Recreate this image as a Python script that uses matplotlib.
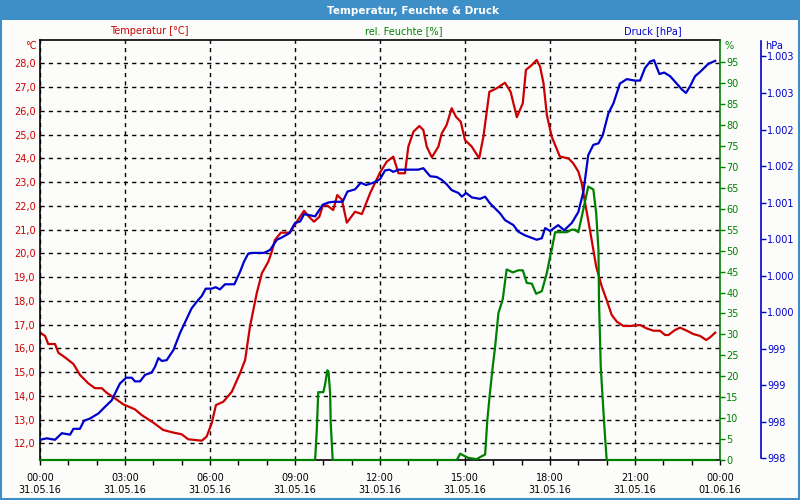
import matplotlib
matplotlib.use("Agg")
import matplotlib.pyplot as plt
from matplotlib.patches import Rectangle
from matplotlib.ticker import MultipleLocator

# --- data (hours since 31.05.16 00:00) ---
temp_h = [0.00, 0.18, 0.29, 0.53, 0.65, 0.88, 1.18, 1.41, 1.70, 1.94, 2.18, 2.35, 2.65,
          2.94, 3.35, 3.59, 4.00, 4.35, 4.71, 5.00, 5.23, 5.71, 5.88, 6.06, 6.21, 6.47,
          6.77, 7.06, 7.24, 7.41, 7.65, 7.83, 8.06, 8.20, 8.29, 8.50, 8.82, 9.06, 9.32,
          9.47, 9.67, 9.86, 9.98, 10.14, 10.35, 10.49, 10.65, 10.83, 11.12, 11.36, 11.65,
          12.00, 12.24, 12.47, 12.65, 12.88, 13.00, 13.18, 13.39, 13.53, 13.65, 13.83,
          14.06, 14.18, 14.35, 14.53, 14.68, 14.85, 15.00, 15.24, 15.50, 15.65, 15.86,
          16.12, 16.41, 16.61, 16.83, 17.04, 17.15, 17.36, 17.53, 17.65, 17.77, 17.89,
          18.06, 18.35, 18.65, 18.82, 19.00, 19.12, 19.24, 19.41, 19.63, 19.83, 20.00,
          20.18, 20.36, 20.59, 20.83, 21.18, 21.41, 21.65, 21.88, 22.06, 22.18, 22.41,
          22.59, 22.83, 23.06, 23.30, 23.51, 23.65, 23.83]
temp_c = [16.66, 16.52, 16.18, 16.18, 15.81, 15.62, 15.34, 14.88, 14.53, 14.32, 14.32, 14.13, 13.89,
          13.64, 13.43, 13.19, 12.87, 12.56, 12.45, 12.38, 12.17, 12.11, 12.28, 12.84, 13.61, 13.75,
          14.17, 14.95, 15.51, 16.91, 18.32, 19.16, 19.65, 20.14, 20.56, 20.87, 20.87, 21.33, 21.79,
          21.57, 21.33, 21.54, 22.01, 22.01, 21.82, 22.45, 22.27, 21.29, 21.75, 21.65, 22.53,
          23.40, 23.86, 24.07, 23.37, 23.37, 24.49, 25.12, 25.36, 25.19, 24.49, 24.04,
          24.49, 25.05, 25.40, 26.11, 25.75, 25.54, 24.77, 24.49, 24.00, 24.91, 26.80,
          26.95, 27.18, 26.80, 25.73, 26.32, 27.72, 27.93, 28.14, 27.86, 27.16, 25.82,
          24.91, 24.07, 24.00, 23.79, 23.44, 22.95, 22.11, 20.98, 19.44, 18.59, 18.03,
          17.40, 17.12, 16.94, 16.94, 16.98, 16.84, 16.74, 16.74, 16.56, 16.56, 16.77,
          16.87, 16.74, 16.60, 16.52, 16.35, 16.46, 16.66]

hum_h = [0.00, 9.71, 9.77, 9.82, 10.00, 10.06, 10.14, 10.18, 10.24, 10.26, 10.33, 14.71,
         14.83, 14.94, 15.12, 15.41, 15.59, 15.71, 15.79, 15.88, 15.98, 16.06, 16.18, 16.33,
         16.47, 16.69, 16.88, 17.04, 17.18, 17.36, 17.51, 17.71, 17.89, 18.03, 18.06, 18.18,
         18.59, 18.77, 18.88, 19.00, 19.20, 19.35, 19.53, 19.63, 19.71, 19.73, 19.79, 19.91,
         20.00, 23.83]
hum_pct = [0.0, 0.0, 7.3, 16.2, 16.2, 18.0, 21.4, 21.2, 16.0, 8.9, 0.0, 0.0,
           1.5, 1.1, 0.5, 0.2, 0.9, 1.3, 9.7, 16.0, 22.4, 26.8, 35.1, 38.3,
           45.5, 44.8, 45.3, 45.3, 42.3, 42.1, 39.7, 40.3, 44.7, 49.5, 50.2, 54.4,
           54.4, 55.0, 55.0, 54.4, 60.6, 65.3, 64.6, 59.0, 50.2, 37.9, 22.4, 8.9,
           0.0, 0.0]

pres_h = [0.00, 0.24, 0.53, 0.77, 1.06, 1.18, 1.41, 1.55, 1.76, 2.06, 2.29, 2.53, 2.82,
          3.04, 3.24, 3.35, 3.53, 3.71, 3.94, 4.06, 4.18, 4.30, 4.47, 4.71, 4.94, 5.18,
          5.35, 5.53, 5.71, 5.85, 6.06, 6.20, 6.35, 6.53, 6.86, 7.06, 7.20, 7.35, 7.47,
          7.91, 8.12, 8.36, 8.53, 8.80, 9.00, 9.18, 9.32, 9.47, 9.71, 9.98, 10.18, 10.35,
          10.68, 10.85, 11.12, 11.32, 11.51, 11.76, 12.00, 12.18, 12.33, 12.47, 12.65,
          12.94, 13.35, 13.53, 13.77, 14.00, 14.18, 14.35, 14.53, 14.77, 14.89, 15.04,
          15.24, 15.53, 15.71, 15.88, 16.06, 16.24, 16.41, 16.71, 16.88, 17.12, 17.53,
          17.71, 17.83, 18.00, 18.29, 18.50, 18.77, 19.00, 19.18, 19.35, 19.53, 19.71,
          19.86, 20.06, 20.24, 20.47, 20.71, 21.00, 21.18, 21.35, 21.53, 21.67, 21.86,
          22.03, 22.24, 22.47, 22.65, 22.80, 22.94, 23.12, 23.30, 23.59, 23.83]
pres_hpa = [997.85, 997.87, 997.85, 997.94, 997.92, 998.00, 998.00, 998.11, 998.14, 998.21, 998.30, 998.39, 998.62,
            998.70, 998.70, 998.65, 998.65, 998.74, 998.77, 998.85, 998.97, 998.93, 998.94, 999.08, 999.31, 999.51,
            999.65, 999.74, 999.82, 999.92, 999.92, 999.94, 999.91, 999.98, 999.98, 1000.15, 1000.29, 1000.40, 1000.41,
            1000.41, 1000.45, 1000.59, 1000.62, 1000.68, 1000.82, 1000.84, 1000.94, 1000.93, 1000.91, 1001.07, 1001.10, 1001.11,
            1001.11, 1001.25, 1001.28, 1001.37, 1001.34, 1001.37, 1001.42, 1001.54, 1001.55, 1001.52, 1001.55,
            1001.55, 1001.55, 1001.57, 1001.46, 1001.45, 1001.41, 1001.35, 1001.27, 1001.23, 1001.18, 1001.23,
            1001.17, 1001.15, 1001.18, 1001.09, 1001.02, 1000.95, 1000.86, 1000.79, 1000.70, 1000.65, 1000.59,
            1000.61, 1000.75, 1000.71, 1000.79, 1000.72, 1000.82, 1000.97, 1001.25, 1001.75, 1001.89, 1001.91,
            1002.02, 1002.32, 1002.46, 1002.73, 1002.79, 1002.77, 1002.77, 1002.94, 1003.03, 1003.05, 1002.86,
            1002.88, 1002.83, 1002.73, 1002.65, 1002.60, 1002.69, 1002.83, 1002.89, 1003.00, 1003.04]

x_ticks = list(range(0, 25, 3))
x_labels = [f"{h % 24:02d}:00\n{'31.05.16' if h < 24 else '01.06.16'}" for h in x_ticks]
temp_ticks = list(range(12, 29))
hum_ticks = list(range(0, 100, 5))
pres_ticks = [997.6 + 0.5 * k for k in range(12)]

RED = "#cc0000"
GREEN = "#008000"
BLUE = "#0000cc"
BAR = "#3e8fc8"
BG = "#fcfdfb"

plt.rcParams["font.family"] = ["DejaVu Sans"]
plt.rcParams["font.size"] = 7

fig = plt.figure(figsize=(8, 5), dpi=100, facecolor=BG)
fig.patches.append(Rectangle((0, 0.96), 1, 0.04, transform=fig.transFigure,
                             facecolor=BAR, edgecolor="none", zorder=0))
fig.patches.append(Rectangle((0.001, 0.002), 0.998, 0.997, transform=fig.transFigure,
                             facecolor="none", edgecolor=BAR, linewidth=1.5, zorder=0))
fig.text(0.516, 0.979, "Temperatur, Feuchte & Druck", color="white", fontsize=7.5,
         fontweight="bold", ha="center", va="center")

ax = fig.add_axes([0.05, 0.08, 0.85, 0.84])
ax.set_facecolor(BG)
ax2 = ax.twinx()
ax3 = ax.twinx()

# temperature (left axis)
ax.plot(temp_h, temp_c, color=RED, linewidth=1.6)
ax.set_xlim(0, 24)
ax.set_ylim(11.297, 28.981)
ax.set_yticks(temp_ticks)
ax.set_yticklabels([f"{t:.1f}".replace(".", ",") for t in temp_ticks], color=RED)
ax.tick_params(axis="y", length=0, pad=3)
ax.set_xticks(x_ticks)
ax.set_xticklabels(x_labels)
ax.xaxis.set_minor_locator(MultipleLocator(1))
ax.tick_params(axis="x", which="both", length=3.5, width=1, direction="out", pad=6)
ax.grid(True, color="black", linestyle=(0, (3, 3)), linewidth=1)
for s in ["left", "top", "bottom"]:
    ax.spines[s].set_color("black")
    ax.spines[s].set_linewidth(1.2)
ax.spines["right"].set_visible(False)

# humidity (first right axis)
ax2.plot(hum_h, hum_pct, color=GREEN, linewidth=1.6, clip_on=False, zorder=5)
ax2.set_ylim(0, 100.3)
ax2.set_yticks(hum_ticks)
ax2.set_yticklabels([str(v) for v in hum_ticks], color=GREEN)
ax2.tick_params(axis="y", colors=GREEN, length=3.5, width=1, pad=1)
for s in ["left", "top", "bottom"]:
    ax2.spines[s].set_visible(False)
ax2.spines["right"].set_color(GREEN)
ax2.spines["right"].set_linewidth(1.2)

# pressure (second right axis, offset ~41 px)
ax3.plot(pres_h, pres_hpa, color=BLUE, linewidth=1.6)
ax3.set_ylim(997.573, 1003.326)
ax3.set_yticks(pres_ticks)
ax3.set_yticklabels([f"{round(v):,}".replace(",", ".") for v in pres_ticks], color=BLUE)
ax3.tick_params(axis="y", colors=BLUE, length=3.5, width=1, pad=1)
for s in ["left", "top", "bottom"]:
    ax3.spines[s].set_visible(False)
ax3.spines["right"].set_position(("outward", 29.5))
ax3.spines["right"].set_color(BLUE)
ax3.spines["right"].set_linewidth(1.2)
ax3.spines["right"].set_bounds(997.6, 1003.31)

# header labels
fig.text(0.186, 0.937, "Temperatur [°C]", color=RED, ha="center", va="center")
fig.text(0.505, 0.937, "rel. Feuchte [%]", color=GREEN, ha="center", va="center")
fig.text(0.816, 0.937, "Druck [hPa]", color=BLUE, ha="center", va="center")
fig.text(0.046, 0.908, "°C", color=RED, ha="right", va="center")
fig.text(0.906, 0.908, "%", color=GREEN, ha="left", va="center")
fig.text(0.956, 0.908, "hPa", color=BLUE, ha="left", va="center")

fig.savefig("out.png", dpi=100, facecolor=BG)
